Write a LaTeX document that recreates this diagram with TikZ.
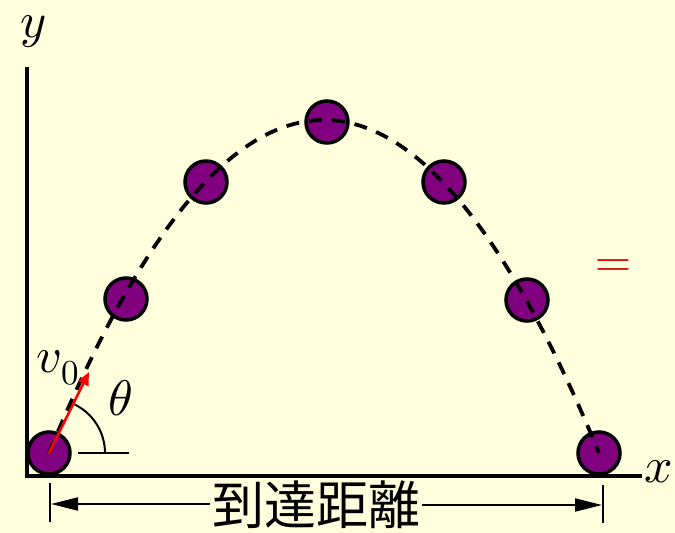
\documentclass[tikz,border=0pt]{standalone}
\usepackage{fontspec}
\usepackage{unicode-math}
\setmathfont{Latin Modern Math}
\newfontfamily\cjk{Noto Sans CJK JP}
\usetikzlibrary{arrows.meta}
\definecolor{bg}{RGB}{255,255,221}
\definecolor{ballc}{RGB}{128,0,128}
\definecolor{eqred}{RGB}{204,0,0}
\tikzset{
  ball/.style={circle,draw=black,fill=ballc,line width=3.5pt,minimum size=42pt,inner sep=0pt},
  axisline/.style={line width=4pt},
  traj/.style={line width=3.8pt,dash pattern=on 13pt off 10pt},
  dimline/.style={line width=2pt,-{Triangle[length=27pt,width=13pt]}},
  tick/.style={line width=2pt},
  mathlab/.style={font=\fontsize{50}{58}\selectfont,inner sep=0pt}
}
\begin{document}
\begin{tikzpicture}[x=1pt,y=-1pt]
\useasboundingbox[fill=bg] (0,0) rectangle (675,533);
% axes
\coordinate (O) at (27,476);
\coordinate (ytop) at (27,67);
\coordinate (xend) at (642,476);
\draw[axisline] (ytop) -- (27,478);
\draw[axisline] (25,476) -- (xend);
\node[mathlab] (ylab) at (33,32) {$y$};
\node[mathlab] (xlab) at (659,472) {$x$};
% balls
\node[ball] (b1) at (49,453) {};
\node[ball] (b2) at (126,299) {};
\node[ball] (b3) at (206,182) {};
\node[ball] (b4) at (327,122) {};
\node[ball] (b5) at (444,182) {};
\node[ball] (b6) at (527,300) {};
\node[ball] (b7) at (599,453) {};
% trajectory
\draw[traj] (b1.center) .. controls (232.3,9) and (415.7,9) .. (b7.center);
% velocity arrow
\coordinate (vtip) at (89,372);
\draw[red,line width=2.6pt,-{Triangle[length=13pt,width=11pt]}] (b1.center) -- (vtip);
\node[mathlab] (v0) at (58,368) {$v_0$};
% angle
\coordinate (hl) at (78,453);
\coordinate (hr) at (129,453);
\draw[line width=2pt] (hl) -- (hr);
\draw[line width=2pt] (105,453) arc[start angle=0,end angle=-64,radius=54];
\node[mathlab] (th) at (121,398) {$\theta$};
% equals sign
\node[text=eqred,font=\fontsize{50}{56}\selectfont,inner sep=0pt] (eq) at (613,269) {=};
% range dimension
\coordinate (t1a) at (50,483);
\coordinate (t1b) at (50,522);
\coordinate (t2a) at (603,485);
\coordinate (t2b) at (603,523);
\draw[tick] (t1a) -- (t1b);
\draw[tick] (t2a) -- (t2b);
\node[fill=bg,inner sep=2pt,font=\cjk\fontsize{52}{58}\selectfont] (range) at (316,505) {到達距離};
\draw[dimline] (range.west |- 0,504) -- (51,504);
\draw[dimline] (range.east |- 0,505) -- (602,505);
\end{tikzpicture}
\end{document}
